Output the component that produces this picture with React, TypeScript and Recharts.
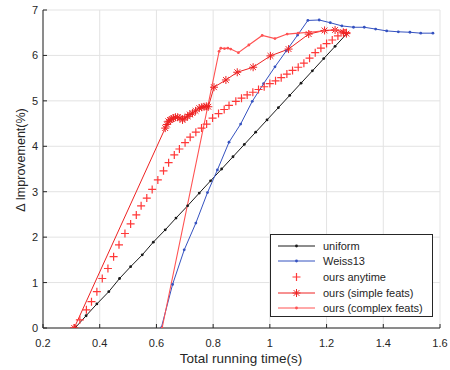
import React from 'react';
import { LineChart, Line, XAxis, YAxis, CartesianGrid, Legend } from 'recharts';

// values
const uniformTime = [0.313, 0.352, 0.39, 0.432, 0.47, 0.509, 0.55, 0.589, 0.631, 0.669, 0.71, 0.751, 0.791, 0.83, 0.87, 0.91, 0.95, 0.99, 1.03, 1.07, 1.11, 1.15, 1.19, 1.23, 1.27];
const uniformGain = [0, 0.27, 0.53, 0.8, 1.09, 1.35, 1.61, 1.89, 2.16, 2.42, 2.69, 2.97, 3.24, 3.5, 3.77, 4.04, 4.31, 4.58, 4.85, 5.12, 5.39, 5.66, 5.93, 6.2, 6.47];

const weissTime = [0.617, 0.657, 0.698, 0.739, 0.78, 0.815, 0.856, 0.897, 0.938, 0.978, 1.018, 1.058, 1.098, 1.134, 1.174, 1.213, 1.254, 1.295, 1.333, 1.373, 1.412, 1.453, 1.494, 1.532, 1.575];
const weissGain = [0, 0.96, 1.72, 2.31, 2.98, 3.48, 4.09, 4.49, 4.99, 5.38, 5.75, 6.1, 6.45, 6.77, 6.78, 6.72, 6.65, 6.62, 6.62, 6.58, 6.54, 6.52, 6.51, 6.49, 6.49];

const anytimeTime = [0.31, 0.33, 0.353, 0.371, 0.39, 0.409, 0.429, 0.449, 0.468, 0.489, 0.509, 0.529, 0.546, 0.566, 0.585, 0.605, 0.625, 0.643, 0.663, 0.681, 0.701, 0.719, 0.739, 0.759, 0.777, 0.798, 0.819, 0.839, 0.856, 0.88, 0.9, 0.92, 0.94, 0.96, 0.98, 1.0, 1.02, 1.04, 1.06, 1.08, 1.1, 1.12, 1.14, 1.16, 1.18, 1.2, 1.22, 1.24, 1.26, 1.27];
const anytimeGain = [0, 0.18, 0.4, 0.58, 0.8, 1.09, 1.31, 1.57, 1.83, 2.08, 2.29, 2.49, 2.69, 2.86, 3.05, 3.26, 3.46, 3.64, 3.81, 3.94, 4.08, 4.2, 4.31, 4.4, 4.49, 4.62, 4.72, 4.81, 4.9, 4.99, 5.06, 5.13, 5.19, 5.25, 5.31, 5.38, 5.44, 5.51, 5.59, 5.67, 5.74, 5.83, 5.94, 6.06, 6.16, 6.26, 6.34, 6.43, 6.49, 6.5];

const simpleTime = [0.31, 0.631, 0.637, 0.642, 0.648, 0.654, 0.66, 0.667, 0.675, 0.683, 0.692, 0.7, 0.71, 0.718, 0.727, 0.738, 0.751, 0.76, 0.768, 0.776, 0.783, 0.803, 0.845, 0.885, 0.941, 1.002, 1.066, 1.137, 1.193, 1.23, 1.259, 1.27];
const simpleGain = [0, 4.4, 4.48, 4.55, 4.58, 4.6, 4.62, 4.64, 4.64, 4.62, 4.58, 4.62, 4.66, 4.7, 4.73, 4.78, 4.84, 4.86, 4.87, 4.88, 4.87, 5.3, 5.46, 5.63, 5.74, 5.99, 6.14, 6.47, 6.55, 6.56, 6.51, 6.48];

const complexTime = [0.62, 0.821, 0.827, 0.84, 0.852, 0.862, 0.889, 0.926, 0.973, 1.018, 1.061, 1.1, 1.14, 1.19, 1.23, 1.265];
const complexGain = [0, 6.09, 6.16, 6.15, 6.16, 6.14, 6.06, 6.23, 6.44, 6.37, 6.47, 6.49, 6.51, 6.54, 6.56, 6.55];

const xTicks = [0.2, 0.4, 0.6, 0.8, 1, 1.2, 1.4, 1.6];
const yTicks = [0, 1, 2, 3, 4, 5, 6, 7];

const FONT = '"Liberation Sans", Arial, Helvetica, sans-serif';
const AXIS = '#262626';
const BLACK = '#1a1a1a';
const BLUE = '#3552c0';
const RED = '#ee2222';
const PLUS = '#ff3838';
const PINK = '#ff5252';

const zip = (xs: number[], ys: number[]) => xs.map((x, i) => ({ x, y: ys[i] }));

const uniformData = zip(uniformTime, uniformGain);
const weissData = zip(weissTime, weissGain);
const anytimeData = zip(anytimeTime, anytimeGain);
const simpleData = zip(simpleTime, simpleGain);
const complexData = zip(complexTime, complexGain);

const smallDot = (color: string) => (p: any) => (
    <circle key={`d-${p.index}`} cx={p.cx} cy={p.cy} r={1.4} fill={color} stroke="none" />
);

const plusPath = (cx: number, cy: number, s: number) => `M${cx - s},${cy}H${cx + s}M${cx},${cy - s}V${cy + s}`;
const starPath = (cx: number, cy: number, s: number) => {
    const d = s * 0.72;
    return `${plusPath(cx, cy, s)}M${cx - d},${cy - d}L${cx + d},${cy + d}M${cx - d},${cy + d}L${cx + d},${cy - d}`;
};

const plusDot = (p: any) => (
    <path key={`p-${p.index}`} d={plusPath(p.cx, p.cy, 4)} stroke={PLUS} strokeWidth={1.2} fill="none" />
);
const starDot = (p: any) => (
    <path key={`s-${p.index}`} d={starPath(p.cx, p.cy, 4)} stroke={RED} strokeWidth={1} fill="none" />
);

const XTick = (props: any) => {
    const { x, y, payload } = props;
    return (
        <g>
            <line x1={x} x2={x} y1={y} y2={y - 4} stroke={AXIS} />
            <text x={x} y={y + 19} textAnchor="middle" fill={AXIS} fontSize={11} fontFamily={FONT}>
                {payload.value}
            </text>
        </g>
    );
};

const YTick = (props: any) => {
    const { x, y, payload } = props;
    return (
        <g>
            <line x1={x} x2={x + 4} y1={y} y2={y} stroke={AXIS} />
            <text x={x - 5} y={y + 4} textAnchor="end" fill={AXIS} fontSize={11} fontFamily={FONT}>
                {payload.value}
            </text>
        </g>
    );
};

const legendItems = [
    { name: 'uniform', color: BLACK, marker: 'dot' },
    { name: 'Weiss13', color: BLUE, marker: 'dot' },
    { name: 'ours anytime', color: PLUS, marker: 'plus' },
    { name: 'ours (simple feats)', color: RED, marker: 'star' },
    { name: 'ours (complex feats)', color: PINK, marker: 'dot' },
];

const LegendBox = () => (
    <div
        style={{
            width: 163,
            height: 83,
            boxSizing: 'border-box',
            border: `1px solid ${AXIS}`,
            background: '#fff',
            paddingTop: 3,
            fontFamily: FONT,
            fontSize: 11,
            color: AXIS,
        }}
    >
        {legendItems.map((it) => (
            <div key={it.name} style={{ display: 'flex', alignItems: 'center', height: 15.6 }}>
                <svg width={52} height={12} style={{ flex: 'none' }}>
                    {it.marker !== 'plus' && <line x1={7} x2={44} y1={6} y2={6} stroke={it.color} strokeWidth={1} />}
                    {it.marker === 'dot' && <circle cx={25.5} cy={6} r={1.4} fill={it.color} />}
                    {it.marker === 'plus' && <path d={plusPath(25.5, 6, 4)} stroke={it.color} strokeWidth={1.2} fill="none" />}
                    {it.marker === 'star' && <path d={starPath(25.5, 6, 4)} stroke={it.color} strokeWidth={1} fill="none" />}
                </svg>
                <span style={{ whiteSpace: 'nowrap' }}>{it.name}</span>
            </div>
        ))}
    </div>
);

export default function App() {
    return (
        <div style={{ position: 'absolute', left: 0, top: 0, width: 450, height: 370, background: '#fff' }}>
            <LineChart width={450} height={370} margin={{ top: 10, right: 10, bottom: 0, left: 0 }}>
                <CartesianGrid stroke="#e3e3e3" />
                <XAxis
                    type="number"
                    dataKey="x"
                    domain={[0.2, 1.6]}
                    ticks={xTicks}
                    height={42}
                    stroke={AXIS}
                    tickSize={0}
                    tickMargin={0}
                    tick={XTick}
                    allowDataOverflow
                    label={{
                        content: () => (
                            <text x={241} y={363} textAnchor="middle" fill={AXIS} fontSize={13.5} fontFamily={FONT}>
                                Total running time(s)
                            </text>
                        ),
                    }}
                />
                <YAxis
                    type="number"
                    dataKey="y"
                    domain={[0, 7]}
                    ticks={yTicks}
                    width={43}
                    stroke={AXIS}
                    tickSize={0}
                    tickMargin={0}
                    tick={YTick}
                    allowDataOverflow
                    label={{
                        content: () => (
                            <text
                                x={25}
                                y={160}
                                transform="rotate(-90 25 160)"
                                textAnchor="middle"
                                fill={AXIS}
                                fontSize={12.5}
                                fontFamily={FONT}
                            >
                                Δ Improvement(%)
                            </text>
                        ),
                    }}
                />
                <Legend
                    layout="vertical"
                    align="center"
                    verticalAlign="middle"
                    content={LegendBox}
                    wrapperStyle={{ position: 'absolute', left: 270, top: 234, width: 163, height: 83 }}
                />
                <Line data={uniformData} dataKey="y" name="uniform" stroke={BLACK} strokeWidth={1} dot={smallDot(BLACK)} activeDot={false} isAnimationActive={false} />
                <Line data={weissData} dataKey="y" name="Weiss13" stroke={BLUE} strokeWidth={1} dot={smallDot(BLUE)} activeDot={false} isAnimationActive={false} />
                <Line data={anytimeData} dataKey="y" name="ours anytime" stroke="none" strokeWidth={0} dot={plusDot} activeDot={false} isAnimationActive={false} />
                <Line data={simpleData} dataKey="y" name="ours (simple feats)" stroke={RED} strokeWidth={1} dot={starDot} activeDot={false} isAnimationActive={false} />
                <Line data={complexData} dataKey="y" name="ours (complex feats)" stroke={PINK} strokeWidth={1.1} dot={smallDot(PINK)} activeDot={false} isAnimationActive={false} />
            </LineChart>
        </div>
    );
}
